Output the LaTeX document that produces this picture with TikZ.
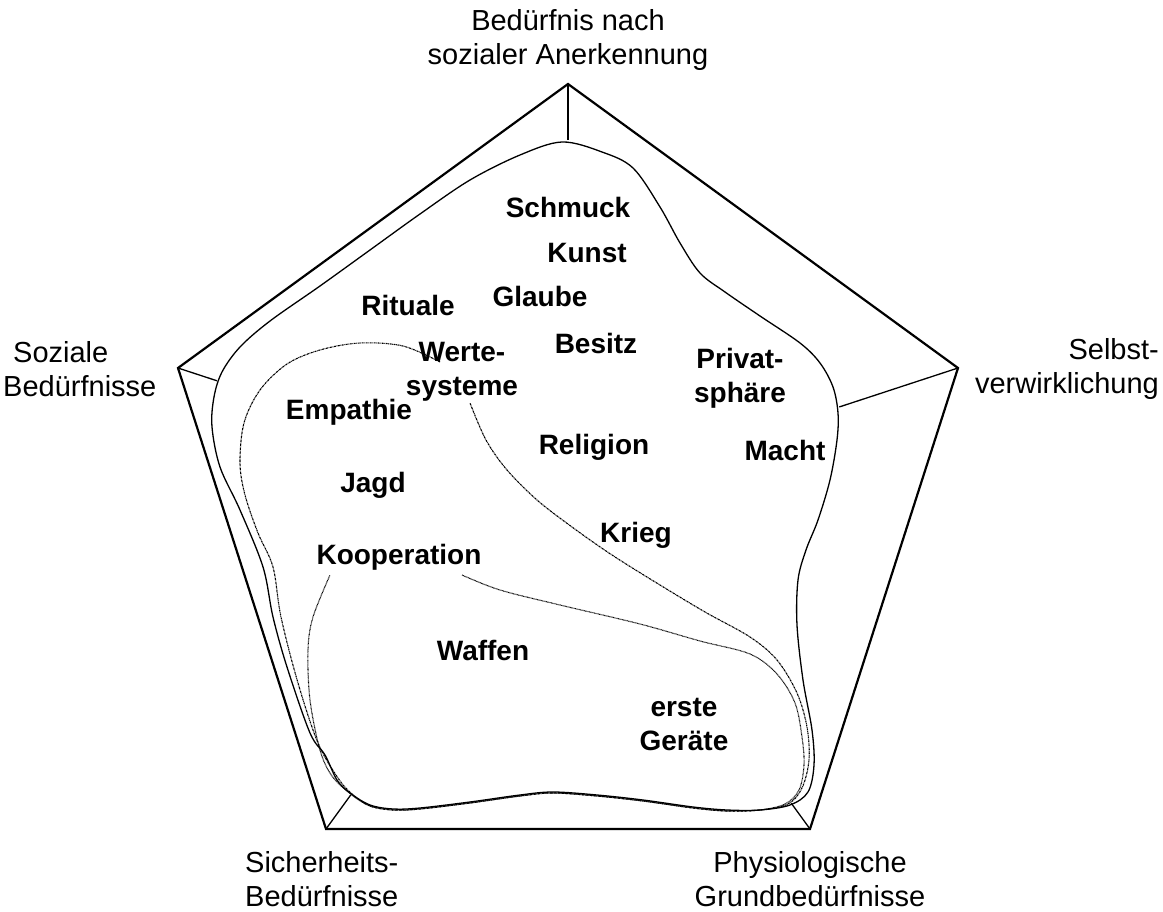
\documentclass[tikz,border=0pt]{standalone}
\usepackage{fontspec}
\setmainfont{Liberation Sans}
\usetikzlibrary{calc}
\begin{document}
\begin{tikzpicture}[x=1pt,y=-1pt,
  edge/.style={line width=2.2pt,line join=miter},
  spoke/.style={line width=1.3pt},
  outline/.style={line width=1.3pt},
  wertline/.style={line width=1.1pt,dash pattern=on 2pt off 0.7pt on 0.6pt off 0.7pt},
  koopline/.style={line width=1.1pt,dash pattern=on 0.7pt off 0.6pt},
  corner/.style={font=\fontsize{29}{34}\selectfont,inner sep=0pt},
  word/.style={font=\fontsize{28}{34}\selectfont\bfseries,align=center,inner sep=0pt}]
\useasboundingbox (0,0) rectangle (1163,912);
\fill[white] (0,0) rectangle (1163,912);
% pentagon
\coordinate (O) at (568,496);
\coordinate (T) at (568,84);
\coordinate (L) at (178,368);
\coordinate (R) at (958,368);
\coordinate (BL) at (326,829);
\coordinate (BR) at (810,829);
\draw[edge] (T) -- (R) -- (BR) -- (BL) -- (L) -- cycle;
% spokes
\coordinate (Te) at ($(T)!56pt!(O)$);
\coordinate (Le) at ($(L)!41pt!(O)$);
\coordinate (Re) at ($(R)!125pt!(O)$);
\coordinate (BLe) at ($(BL)!42pt!(O)$);
\coordinate (BRe) at ($(BR)!32pt!(O)$);
\draw[spoke] (T) -- (Te);
\draw[spoke] (L) -- (Le);
\draw[spoke] (R) -- (Re);
\draw[spoke] (BL) -- (BLe);
\draw[spoke] (BR) -- (BRe);
% outer curve
\draw[outline] plot[smooth cycle,tension=0.55] coordinates {
 (562,142) (602,152) (633,168) (660,207) (680,243) (700,273) (725,292) (760,316)
 (800,343) (820,363) (833,387) (838,413) (837,440) (830,480) (818,520) (806,550)
 (798,580) (797,625) (803,680) (812,730) (814,765) (808,792) (790,805) (760,810)
 (727,810) (693,807) (643,800) (597,795) (553,792) (520,795) (470,802) (420,808)
 (393,809) (370,805) (350,793) (337,780) (325,755) (310,733) (287,667) (273,617)
 (263,567) (240,510) (220,467) (212,427) (214,397) (222,372) (240,347) (270,321)
 (320,286) (370,250) (420,214) (470,180) (520,155)};
% Wertesysteme loop
\draw[wertline] plot[smooth,tension=0.55] coordinates {
 (440,362) (403,346) (360,343) (320,350) (287,364) (260,390) (244,423) (240,463)
 (245,495) (258,533) (273,567) (281,617) (298,683) (318,743) (338,778) (352,794)
 (370,806) (393,810) (420,809) (470,803) (520,796) (553,793) (597,796) (643,801)
 (693,808) (727,811) (760,810) (788,804) (802,788) (809,760) (807,727) (797,693)
 (777,660) (750,637) (705,612) (660,585) (612,555) (572,527) (537,500) (507,470)
 (486,440) (470,403)};
% Kooperation loop
\draw[koopline] plot[smooth,tension=0.55] coordinates {
 (462,575) (500,590) (560,605) (640,624) (700,641) (750,654) (777,674) (795,703)
 (802,737) (804,765) (799,790) (785,804) (760,810) (727,811) (693,808) (643,801)
 (597,796) (553,793) (520,796) (470,803) (420,809) (393,810) (370,806) (352,795)
 (332,776) (320,750) (310,700) (308,650) (313,617) (330,575)};
% corner labels
\node[corner,align=center] (nTop) at (568,40) {Bedürfnis nach\\sozialer Anerkennung};
\node[corner,align=left,anchor=west] (nLeft) at (3,369) {\hspace{10pt}Soziale\\Bedürfnisse};
\node[corner,align=right,anchor=east] (nRight) at (1159,369) {Selbst-\\verwirklichung};
\node[corner,align=left,anchor=west] (nBL) at (245,879) {Sicherheits-\\Bedürfnisse};
\node[corner,align=center] (nBR) at (810,879) {Physiologische\\Grundbedürfnisse};
% words
\node[word] (w1) at (568,207) {Schmuck};
\node[word] (w2) at (587,253) {Kunst};
\node[word] (w3) at (540,296) {Glaube};
\node[word] (w4) at (408,305) {Rituale};
\node[word] (w5) at (462,372) {Werte-\\systeme};
\node[word] (w6) at (596,343) {Besitz};
\node[word] (w7) at (740,378) {Privat-\\sphäre};
\node[word] (w8) at (349,412) {Empathie};
\node[word] (w9) at (373,485) {Jagd};
\node[word] (w10) at (594,447) {Religion};
\node[word] (w11) at (785,450) {Macht};
\node[word] (w12) at (636,535) {Krieg};
\node[word] (w13) at (399,557) {Kooperation};
\node[word] (w14) at (483,650) {Waffen};
\node[word] (w15) at (684,725) {erste\\Geräte};
\end{tikzpicture}
\end{document}
